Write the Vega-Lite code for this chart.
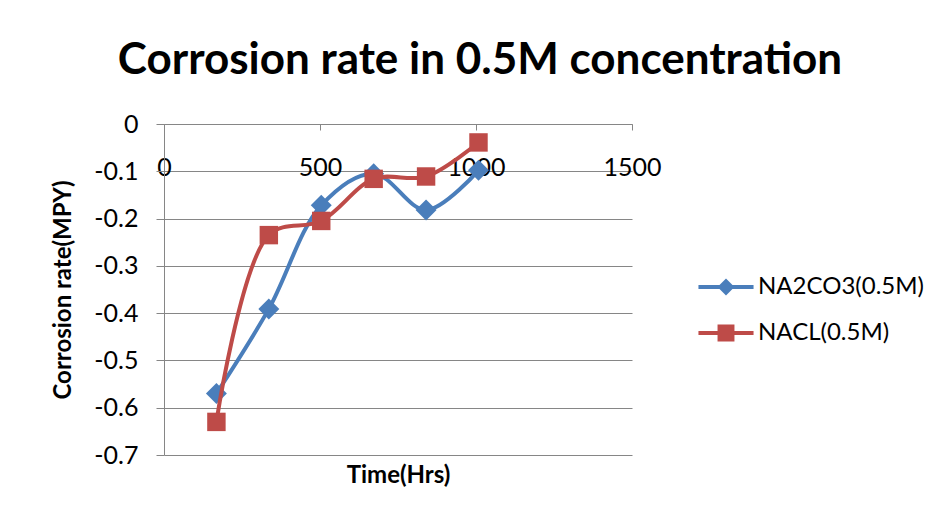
{
  "$schema": "https://vega.github.io/schema/vega-lite/v6.json",
  "width": 468,
  "height": 331,
  "autosize": {"type": "none"},
  "padding": {"left": 164, "top": 124, "right": 306, "bottom": 62},
  "background": "white",
  "config": {"view": {"stroke": null}, "font": "Lato"},
  "title": {
    "text": "Corrosion rate in 0.5M concentra\u200Ction",
    "font": "Lato",
    "fontSize": 44,
    "fontWeight": "bold",
    "color": "black",
    "anchor": "middle",
    "frame": "group",
    "dx": 82,
    "offset": 29
  },
  "data": {
    "values": [
      {"series": "NA2CO3(0.5M)", "hours": 168, "rate": -0.570},
      {"series": "NA2CO3(0.5M)", "hours": 336, "rate": -0.391},
      {"series": "NA2CO3(0.5M)", "hours": 504, "rate": -0.172},
      {"series": "NA2CO3(0.5M)", "hours": 672, "rate": -0.105},
      {"series": "NA2CO3(0.5M)", "hours": 840, "rate": -0.182},
      {"series": "NA2CO3(0.5M)", "hours": 1008, "rate": -0.098},
      {"series": "NACL(0.5M)", "hours": 168, "rate": -0.630},
      {"series": "NACL(0.5M)", "hours": 336, "rate": -0.235},
      {"series": "NACL(0.5M)", "hours": 504, "rate": -0.205},
      {"series": "NACL(0.5M)", "hours": 672, "rate": -0.116},
      {"series": "NACL(0.5M)", "hours": 840, "rate": -0.111},
      {"series": "NACL(0.5M)", "hours": 1008, "rate": -0.039}
    ]
  },
  "encoding": {
    "x": {
      "field": "hours",
      "type": "quantitative",
      "scale": {"domain": [0, 1500], "nice": false, "zero": false},
      "axis": {
        "orient": "bottom",
        "offset": -331,
        "values": [0, 500, 1000, 1500],
        "labelExpr": "'' + datum.value",
        "grid": false,
        "title": "Time(Hrs)",
        "titleX": 234,
        "titleY": 351,
        "titleBaseline": "middle",
        "titleFont": "Lato",
        "titleFontSize": 24,
        "titleFontWeight": "bold",
        "titleColor": "black",
        "labelFont": "Lato",
        "labelFontSize": 25,
        "labelColor": "black",
        "labelPadding": 25,
        "labelFlush": false,
        "labelOverlap": false,
        "tickSize": 6,
        "tickColor": "#868686",
        "domainColor": "#868686"
      }
    },
    "y": {
      "field": "rate",
      "type": "quantitative",
      "scale": {"domain": [-0.7, 0], "nice": false, "zero": false},
      "axis": {
        "values": [0, -0.1, -0.2, -0.3, -0.4, -0.5, -0.6, -0.7],
        "labelExpr": "'' + datum.value",
        "grid": true,
        "gridColor": "#868686",
        "gridOpacity": 1,
        "title": "Corrosion rate(MPY)",
        "titleX": -101,
        "titleY": 165.5,
        "titleAngle": -90,
        "titleAlign": "center",
        "titleBaseline": "middle",
        "titleFont": "Lato",
        "titleFontSize": 24,
        "titleFontWeight": "bold",
        "titleColor": "black",
        "labelFont": "Lato",
        "labelFontSize": 25,
        "labelColor": "black",
        "labelPadding": 18,
        "labelFlush": false,
        "labelOverlap": false,
        "tickSize": 8,
        "tickColor": "#868686",
        "domainColor": "#868686"
      }
    }
  },
  "layer": [
    {
      "transform": [{"filter": "datum.series == 'NA2CO3(0.5M)'"}],
      "mark": {"type": "line", "interpolate": "catmull-rom", "strokeWidth": 4, "color": "#4A7EBB", "strokeCap": "round"}
    },
    {
      "transform": [{"filter": "datum.series == 'NA2CO3(0.5M)'"}],
      "mark": {"type": "point", "shape": "diamond", "filled": true, "size": 440, "color": "#4A7EBB", "opacity": 1}
    },
    {
      "transform": [{"filter": "datum.series == 'NACL(0.5M)'"}],
      "mark": {"type": "line", "interpolate": "catmull-rom", "strokeWidth": 4, "color": "#BE4B48", "strokeCap": "round"}
    },
    {
      "transform": [{"filter": "datum.series == 'NACL(0.5M)'"}],
      "mark": {"type": "point", "shape": "square", "filled": true, "size": 340, "color": "#BE4B48", "opacity": 1}
    },
    {
      "mark": {"type": "point", "filled": true, "opacity": 0},
      "encoding": {
        "fill": {
          "field": "series",
          "type": "nominal",
          "scale": {"domain": ["NA2CO3(0.5M)", "NACL(0.5M)"], "range": ["#4A7EBB", "#BE4B48"]},
          "legend": {
            "orient": "none",
            "legendX": 544,
            "legendY": 145,
            "title": null,
            "padding": 0,
            "symbolSize": 1296,
            "symbolOpacity": 1,
            "symbolStrokeWidth": 0,
            "labelFont": "Lato",
            "labelFontSize": 24,
            "labelColor": "black",
            "labelOffset": 14,
            "labelLimit": 400,
            "rowPadding": 16
          }
        },
        "shape": {
          "field": "series",
          "type": "nominal",
          "scale": {
            "domain": ["NA2CO3(0.5M)", "NACL(0.5M)"],
            "range": [
              "M-1.53,-0.11L1.53,-0.11L1.53,0.11L-1.53,0.11ZM0,-0.47L0.47,0L0,0.47L-0.47,0Z",
              "M-1.53,-0.11L1.53,-0.11L1.53,0.11L-1.53,0.11ZM-0.47,-0.47L0.47,-0.47L0.47,0.47L-0.47,0.47Z"
            ]
          },
          "legend": {
            "orient": "none",
            "legendX": 544,
            "legendY": 145,
            "title": null,
            "padding": 0,
            "symbolSize": 1296,
            "symbolOpacity": 1,
            "symbolStrokeWidth": 0,
            "labelFont": "Lato",
            "labelFontSize": 24,
            "labelColor": "black",
            "labelOffset": 14,
            "labelLimit": 400,
            "rowPadding": 16
          }
        }
      }
    }
  ]
}
